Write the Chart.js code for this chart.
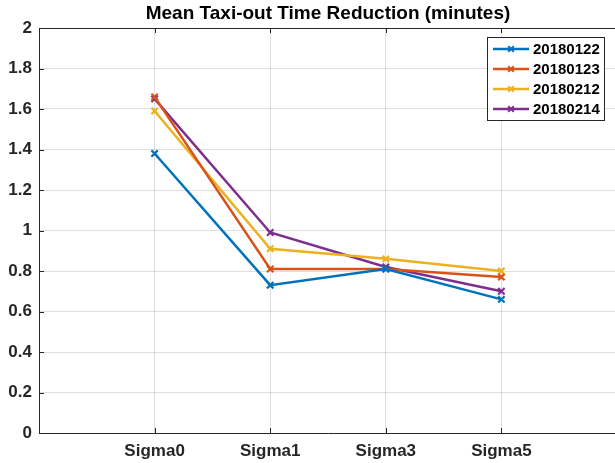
<!DOCTYPE html>
<html>
<head>
<meta charset="utf-8">
<script src="https://cdn.jsdelivr.net/npm/chart.js@4"></script>
<style>
    html, body { margin: 0; padding: 0; background: #fff; overflow: hidden; }
    #wrap { width: 625px; height: 463px; }
</style>
</head>
<body>
<div id="wrap"><canvas id="taxiChart" width="625" height="463"></canvas></div>
<script>
// Chart values
const categories = ['Sigma0', 'Sigma1', 'Sigma3', 'Sigma5'];
const seriesNames = ['20180122', '20180123', '20180212', '20180214'];
const series20180122 = [1.38, 0.73, 0.81, 0.66];
const series20180123 = [1.66, 0.81, 0.81, 0.77];
const series20180212 = [1.59, 0.91, 0.86, 0.80];
const series20180214 = [1.65, 0.99, 0.82, 0.70];
const yTickValues = [0, 0.2, 0.4, 0.6, 0.8, 1, 1.2, 1.4, 1.6, 1.8, 2];

const colors = ['#0072BD', '#D95319', '#EDB120', '#7E2F8E'];
const axisColor = '#262626';
const gridColor = 'rgba(38, 38, 38, 0.15)';
const fontFamily = '"Liberation Sans", Arial, Helvetica, sans-serif';

function toPoints(values) {
    return values.map((v, i) => ({ x: i + 1, y: v }));
}

const allSeries = [series20180122, series20180123, series20180212, series20180214];

const datasets = allSeries.map((values, i) => ({
    label: seriesNames[i],
    data: toPoints(values),
    borderColor: colors[i],
    backgroundColor: colors[i],
    borderWidth: 2.5,
    pointStyle: 'crossRot',
    pointRadius: 4.5,
    pointBorderWidth: 2.2,
    pointHoverRadius: 4.5,
    fill: false,
    tension: 0
}));

// Box frame, inward ticks and the boxed legend, drawn like MATLAB does
const matlabFrame = {
    id: 'matlabFrame',
    afterDraw(chart) {
        const ctx = chart.ctx;
        const area = chart.chartArea;
        const xs = chart.scales.x;
        const ys = chart.scales.y;
        ctx.save();
        ctx.strokeStyle = axisColor;
        ctx.lineWidth = 1;

        // top edge
        ctx.beginPath();
        ctx.moveTo(area.left, area.top + 0.5);
        ctx.lineTo(area.right, area.top + 0.5);
        ctx.stroke();

        // inward ticks
        ctx.beginPath();
        yTickValues.forEach(v => {
            const py = Math.round(ys.getPixelForValue(v)) + 0.5;
            ctx.moveTo(area.left, py);
            ctx.lineTo(area.left + 5, py);
        });
        categories.forEach((c, i) => {
            const px = Math.round(xs.getPixelForValue(i + 1)) + 0.5;
            ctx.moveTo(px, area.bottom);
            ctx.lineTo(px, area.bottom - 5);
            ctx.moveTo(px, area.top);
            ctx.lineTo(px, area.top + 5);
        });
        ctx.stroke();

        // legend
        const lx = 487, ly = 37, lw = 117, lh = 83;
        ctx.fillStyle = '#fff';
        ctx.fillRect(lx, ly, lw, lh);
        ctx.strokeRect(lx + 0.5, ly + 0.5, lw, lh);
        ctx.font = 'bold 15px ' + fontFamily;
        ctx.textBaseline = 'middle';
        chart.data.datasets.forEach((ds, i) => {
            const ry = ly + 12 + i * 20;
            ctx.strokeStyle = ds.borderColor;
            ctx.lineWidth = 2.5;
            ctx.beginPath();
            ctx.moveTo(lx + 6, ry);
            ctx.lineTo(lx + 42, ry);
            ctx.stroke();
            const cx = lx + 24, r = 2.8;
            ctx.lineWidth = 2;
            ctx.beginPath();
            ctx.moveTo(cx - r, ry - r);
            ctx.lineTo(cx + r, ry + r);
            ctx.moveTo(cx - r, ry + r);
            ctx.lineTo(cx + r, ry - r);
            ctx.stroke();
            ctx.fillStyle = '#000';
            ctx.fillText(ds.label, lx + 46, ry + 1);
        });
        ctx.restore();
    }
};

const config = {
    type: 'line',
    data: { datasets: datasets },
    options: {
        responsive: false,
        animation: false,
        layout: {
            padding: { left: 0, right: 2.5, top: 0, bottom: 0 }
        },
        plugins: {
            legend: { display: false },
            tooltip: { enabled: false },
            title: {
                display: true,
                text: 'Mean Taxi-out Time Reduction (minutes)',
                color: '#000',
                fullSize: false,
                font: { family: fontFamily, size: 19, weight: 'bold' },
                padding: { top: 2.6, bottom: 2.6 }
            }
        },
        scales: {
            x: {
                type: 'linear',
                min: 0,
                max: 5,
                afterFit(scale) { scale.height = 30; },
                afterBuildTicks(scale) {
                    scale.ticks = [0, 1, 2, 3, 4, 5].map(v => ({ value: v }));
                },
                ticks: {
                    color: axisColor,
                    padding: 8,
                    maxRotation: 0,
                    autoSkip: false,
                    font: { family: fontFamily, size: 17, weight: 'bold' },
                    callback: (v) => categories[v - 1] || ''
                },
                grid: {
                    drawTicks: false,
                    color: (ctx) => (ctx.tick && ctx.tick.value >= 1 && ctx.tick.value <= 4) ? gridColor : 'rgba(0,0,0,0)'
                },
                border: { color: axisColor, width: 1 }
            },
            y: {
                min: 0,
                max: 2,
                afterFit(scale) { scale.width = 39; },
                afterBuildTicks(scale) {
                    scale.ticks = yTickValues.map(v => ({ value: v }));
                },
                ticks: {
                    color: axisColor,
                    padding: 7,
                    font: { family: fontFamily, size: 17, weight: 'bold' },
                    callback: (v) => String(Math.round(v * 10) / 10)
                },
                grid: {
                    drawTicks: false,
                    color: gridColor
                },
                border: { color: axisColor, width: 1 }
            }
        }
    },
    plugins: [matlabFrame]
};

const taxiChart = new Chart(document.getElementById('taxiChart'), config);
</script>
</body>
</html>
